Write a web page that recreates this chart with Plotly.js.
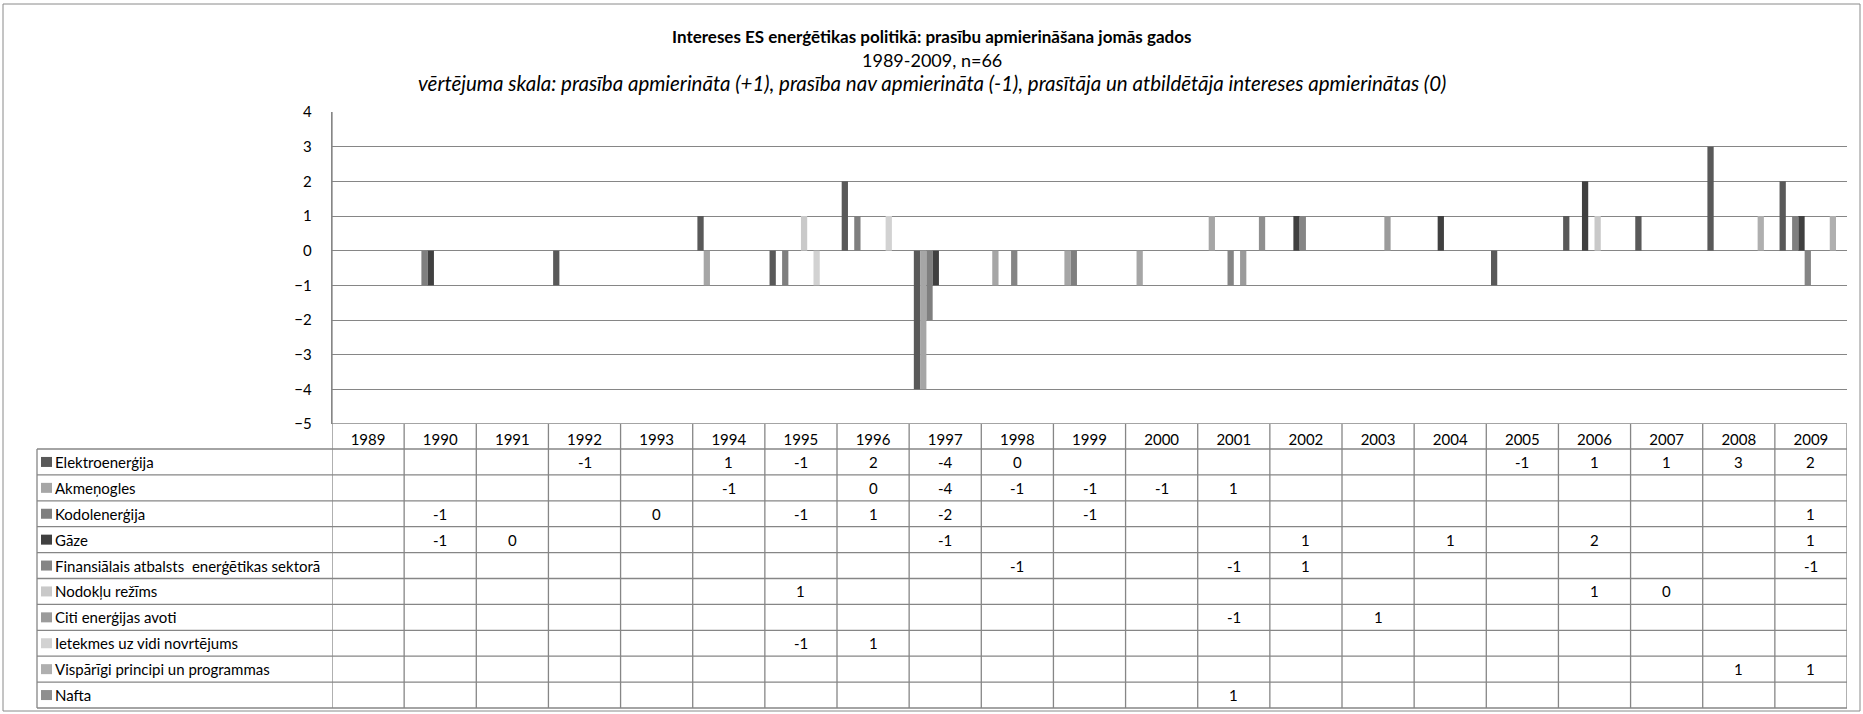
<!DOCTYPE html>
<html>
<head>
<meta charset="utf-8">
<script src="https://cdn.plot.ly/plotly-3.0.1.min.js"></script>
<style>
  html, body { margin: 0; padding: 0; background: #ffffff; }
  #chart { width: 1863px; height: 714px; }
</style>
</head>
<body>
<div id="chart"></div>
<script>
// Years on the category axis (also the header row of the data table)
const years = ['1989','1990','1991','1992','1993','1994','1995','1996','1997','1998','1999',
               '2000','2001','2002','2003','2004','2005','2006','2007','2008','2009'];

// Series names, in table order
const seriesNames = [
  'Elektroenerģija',
  'Akmeņogles',
  'Kodolenerģija',
  'Gāze',
  'Finansiālais atbalsts  enerģētikas sektorā',
  'Nodokļu režīms',
  'Citi enerģijas avoti',
  'Ietekmes uz vidi novrtējums',
  'Vispārīgi principi un programmas',
  'Nafta'
];

// Scores per year (null = no claim that year)
//                        1989  1990  1991  1992  1993  1994  1995  1996  1997  1998  1999  2000  2001  2002  2003  2004  2005  2006  2007  2008  2009
const elektroenergija = [null, null, null,   -1, null,    1,   -1,    2,   -4,    0, null, null, null, null, null, null,   -1,    1,    1,    3,    2];
const akmenogles      = [null, null, null, null, null,   -1, null,    0,   -4,   -1,   -1,   -1,    1, null, null, null, null, null, null, null, null];
const kodolenergija   = [null,   -1, null, null,    0, null,   -1,    1,   -2, null,   -1, null, null, null, null, null, null, null, null, null,    1];
const gaze            = [null,   -1,    0, null, null, null, null, null,   -1, null, null, null, null,    1, null,    1, null,    2, null, null,    1];
const finansialais    = [null, null, null, null, null, null, null, null, null,   -1, null, null,   -1,    1, null, null, null, null, null, null,   -1];
const nodoklu         = [null, null, null, null, null, null,    1, null, null, null, null, null, null, null, null, null, null,    1,    0, null, null];
const citiAvoti       = [null, null, null, null, null, null, null, null, null, null, null, null,   -1, null,    1, null, null, null, null, null, null];
const ietekmes        = [null, null, null, null, null, null,   -1,    1, null, null, null, null, null, null, null, null, null, null, null, null, null];
const visparigi       = [null, null, null, null, null, null, null, null, null, null, null, null, null, null, null, null, null, null, null,    1,    1];
const nafta           = [null, null, null, null, null, null, null, null, null, null, null, null,    1, null, null, null, null, null, null, null, null];

const seriesValues = [elektroenergija, akmenogles, kodolenergija, gaze, finansialais,
                      nodoklu, citiAvoti, ietekmes, visparigi, nafta];

const seriesColors = ['#595959', '#a6a6a6', '#7f7f7f', '#404040', '#858585',
                      '#c9c9c9', '#9b9b9b', '#d2d2d2', '#afafaf', '#8f8f8f'];

const yTickVals = [-5, -4, -3, -2, -1, 0, 1, 2, 3, 4];

// ---- page geometry (pixels) ----
const W = 1863, H = 714;
const plotL = 332, plotR = 1847, plotT = 112, plotB = 424;
const tableL = 37;
const headerB = 449;
const rowH = 25.9;
const gridColor = '#868686';
const font = 'Lato, "Open Sans", sans-serif';
const cellSize = 15;

const px2x = p => (p - plotL) / (plotR - plotL);
const px2y = p => (plotB - p) / (plotB - plotT);

const traces = seriesNames.map((name, i) => ({
  type: 'bar',
  name: name,
  x: years,
  y: seriesValues[i],
  marker: { color: seriesColors[i], line: { width: 0 } },
  showlegend: false,
  hoverinfo: 'x+y+name'
}));

const shapes = [];
const annotations = [];

// outer chart frame
shapes.push({ type: 'rect', xref: 'paper', yref: 'paper',
  x0: px2x(3), x1: px2x(1860), y0: px2y(711), y1: px2y(4),
  line: { color: '#8a8a8a', width: 1 }, fillcolor: 'rgba(0,0,0,0)', layer: 'below' });

const tableB = headerB + rowH * seriesNames.length;

// table: top edge of the year header (bottom of the value axis)
shapes.push({ type: 'line', xref: 'paper', yref: 'y', x0: 0, x1: 1, y0: -5, y1: -5,
  line: { color: gridColor, width: 1.3 } });
// horizontal row lines
for (let r = 0; r <= seriesNames.length; r++) {
  const py = headerB + r * rowH;
  shapes.push({ type: 'line', xref: 'paper', yref: 'paper',
    x0: px2x(tableL), x1: 1, y0: px2y(py), y1: px2y(py),
    line: { color: gridColor, width: 1.3 } });
}
// vertical column lines at category boundaries
for (let c = 0; c <= years.length; c++) {
  shapes.push({ type: 'line', xref: 'x', yref: 'paper',
    x0: c - 0.5, x1: c - 0.5, y0: px2y(tableB), y1: c === 0 ? 1 : px2y(plotB),
    line: { color: gridColor, width: 1.3 } });
}
// left edge of the label column
shapes.push({ type: 'line', xref: 'paper', yref: 'paper',
  x0: px2x(tableL), x1: px2x(tableL), y0: px2y(headerB), y1: px2y(tableB),
  line: { color: gridColor, width: 1.3 } });

// row labels with colour keys, and the value cells
seriesNames.forEach((name, s) => {
  const cy = headerB + (s + 0.5) * rowH;
  shapes.push({ type: 'rect', xref: 'paper', yref: 'paper',
    x0: px2x(41), x1: px2x(52), y0: px2y(cy + 5), y1: px2y(cy - 5),
    fillcolor: seriesColors[s], line: { width: 0 } });
  annotations.push({ xref: 'paper', yref: 'paper', x: px2x(53), y: px2y(cy),
    xanchor: 'left', yanchor: 'middle', showarrow: false, text: name,
    font: { family: font, size: cellSize, color: '#000' } });
  seriesValues[s].forEach((v, i) => {
    if (v === null) return;
    // category axes take the category's serial number
    annotations.push({ xref: 'x', yref: 'paper', x: i, y: px2y(cy),
      xanchor: 'center', yanchor: 'middle', showarrow: false, text: String(v),
      font: { family: font, size: cellSize, color: '#000' } });
  });
});

// three-line heading
annotations.push({ xref: 'paper', yref: 'paper', x: px2x(W / 2), y: px2y(37),
  xanchor: 'center', yanchor: 'middle', showarrow: false,
  text: '<b>Intereses ES enerģētikas politikā: prasību apmierināšana jomās gados</b>',
  font: { family: font, size: 17, color: '#000' } });
annotations.push({ xref: 'paper', yref: 'paper', x: px2x(W / 2), y: px2y(60),
  xanchor: 'center', yanchor: 'middle', showarrow: false,
  text: '1989-2009, n=66',
  font: { family: font, size: 18, color: '#000' } });
annotations.push({ xref: 'paper', yref: 'paper', x: px2x(W / 2), y: px2y(83),
  xanchor: 'center', yanchor: 'middle', showarrow: false,
  text: '<i>vērtējuma skala: prasība apmierināta (+1), prasība nav apmierināta (-1), prasītāja un atbildētāja intereses apmierinātas (0)</i>',
  font: { family: font, size: 20.5, color: '#000' } });

const layout = {
  width: W, height: H,
  margin: { l: plotL, r: W - plotR, t: plotT, b: H - plotB, pad: 0 },
  paper_bgcolor: '#ffffff', plot_bgcolor: '#ffffff',
  barmode: 'group', bargap: 0.13, bargroupgap: 0,
  font: { family: font, size: cellSize, color: '#000' },
  xaxis: {
    type: 'category', categoryorder: 'array', categoryarray: years,
    range: [-0.5, years.length - 0.5],
    showgrid: false, zeroline: false, showline: false,
    ticks: '', ticklabelstandoff: 5,
    tickfont: { family: font, size: cellSize, color: '#000' }
  },
  yaxis: {
    range: [-5, 4], tickmode: 'array', tickvals: yTickVals,
    showgrid: true, gridcolor: gridColor, gridwidth: 1,
    zeroline: true, zerolinecolor: gridColor, zerolinewidth: 1,
    showline: true, linecolor: gridColor, linewidth: 1.3,
    ticks: '', ticklabelstandoff: 16,
    tickfont: { family: font, size: cellSize, color: '#000' }
  },
  shapes: shapes,
  annotations: annotations
};

Plotly.newPlot('chart', traces, layout, { displayModeBar: false, staticPlot: true });
</script>
</body>
</html>
